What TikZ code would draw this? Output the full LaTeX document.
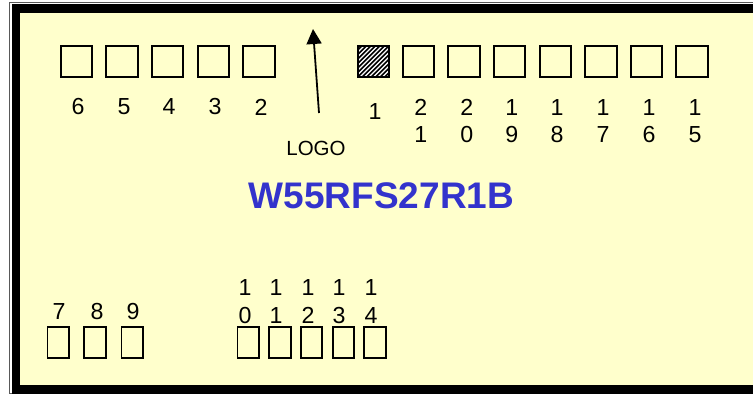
\documentclass[tikz,border=0pt]{standalone}
\usepackage{fontspec}
\setmainfont{Liberation Sans}
\usetikzlibrary{arrows.meta,calc}
\definecolor{panel}{HTML}{FFFFCC}
\definecolor{titleblue}{HTML}{3333CC}
\begin{document}
\begin{tikzpicture}[x=1pt,y=-1pt,
  pinbox/.style={draw,line width=1.9pt,inner sep=0pt,outer sep=0pt,minimum width=31.5pt,minimum height=31.5pt},
  lowbox/.style={pinbox,minimum width=21.7pt,minimum height=31.2pt},
  num/.style={font=\fontsize{23.2}{27.5}\selectfont,inner sep=0pt,align=center},
  logolabel/.style={font=\fontsize{20.5}{24}\selectfont,inner sep=0pt},
  titlelabel/.style={font=\bfseries\fontsize{37}{40}\selectfont,text=titleblue,inner sep=0pt}]
\useasboundingbox (0,0) rectangle (753,394);
\fill[white] (0,0) rectangle (753,394);
% frame
\draw[black!65,line width=1pt] (9.5,2.5) rectangle (800,393.5);
\draw[line width=8.5pt,fill=panel] (16,8.6) rectangle (810,389.5);
% top-left row of pins
\node[pinbox] (p6) at (76.5,61.5) {};
\node[pinbox] (p5) at (122,61.5) {};
\node[pinbox] (p4) at (167.5,61.5) {};
\node[pinbox] (p3) at (213.5,61.5) {};
\node[pinbox] (p2) at (259,61.5) {};
% hatched pin 1
\node[pinbox,fill=white] (p1) at (373.3,61.5) {};
\begin{scope}
  \clip (p1.north west) rectangle (p1.south east);
  \foreach \k in {-10,...,10}
    \draw[line width=1.6pt] ($(p1.south west)+(4.5*\k,0)$) -- ++(40,-40);
\end{scope}
\draw[line width=1.9pt] (p1.north west) rectangle (p1.south east);
% top-right row
\node[pinbox] (p21) at (418.5,61.5) {};
\node[pinbox] (p20) at (464,61.5) {};
\node[pinbox] (p19) at (509.5,61.5) {};
\node[pinbox] (p18) at (555.5,61.5) {};
\node[pinbox] (p17) at (601,61.5) {};
\node[pinbox] (p16) at (646.5,61.5) {};
\node[pinbox] (p15) at (692,61.5) {};
% top labels
\node[num] (l6) at (78,107) {6};
\node[num] (l5) at (124,107) {5};
\node[num] (l4) at (169,107) {4};
\node[num] (l3) at (215,107) {3};
\node[num] (l2) at (261,107) {2};
\node[num] (l1) at (375,112) {1};
\node[num] (l21) at (420.7,121) {2\\1};
\node[num] (l20) at (466.7,121) {2\\0};
\node[num] (l19) at (511.7,121) {1\\9};
\node[num] (l18) at (557,121) {1\\8};
\node[num] (l17) at (603,121) {1\\7};
\node[num] (l16) at (649,121) {1\\6};
\node[num] (l15) at (695,121) {1\\5};
% logo arrow
\node[logolabel] (logo) at (316,148.5) {LOGO};
\coordinate (arrtail) at (319,113);
\coordinate (arrtip) at (313,29);
\draw[line width=1.8pt,-{Triangle[width=15pt,length=15pt]}] (arrtail) -- (arrtip);
% title
\node[titlelabel] (title) at (381.5,195.5) {W55RFS27R1B};
% bottom pins
\node[lowbox] (p7) at (58.3,342.5) {};
\node[lowbox] (p8) at (95,342.5) {};
\node[lowbox] (p9) at (132.3,342.5) {};
\node[lowbox] (p10) at (248.3,342.5) {};
\node[lowbox] (p11) at (280,342.5) {};
\node[lowbox] (p12) at (311.5,342.5) {};
\node[lowbox] (p13) at (343.5,342.5) {};
\node[lowbox] (p14) at (375,342.5) {};
% bottom labels
\node[num] (l7) at (59,312) {7};
\node[num] (l8) at (97,312) {8};
\node[num] (l9) at (133,312) {9};
\node[num] (l10) at (245,301.5) {1\\0};
\node[num] (l11) at (276,301.5) {1\\1};
\node[num] (l12) at (308,301.5) {1\\2};
\node[num] (l13) at (339,301.5) {1\\3};
\node[num] (l14) at (371,301.5) {1\\4};
\end{tikzpicture}
\end{document}
